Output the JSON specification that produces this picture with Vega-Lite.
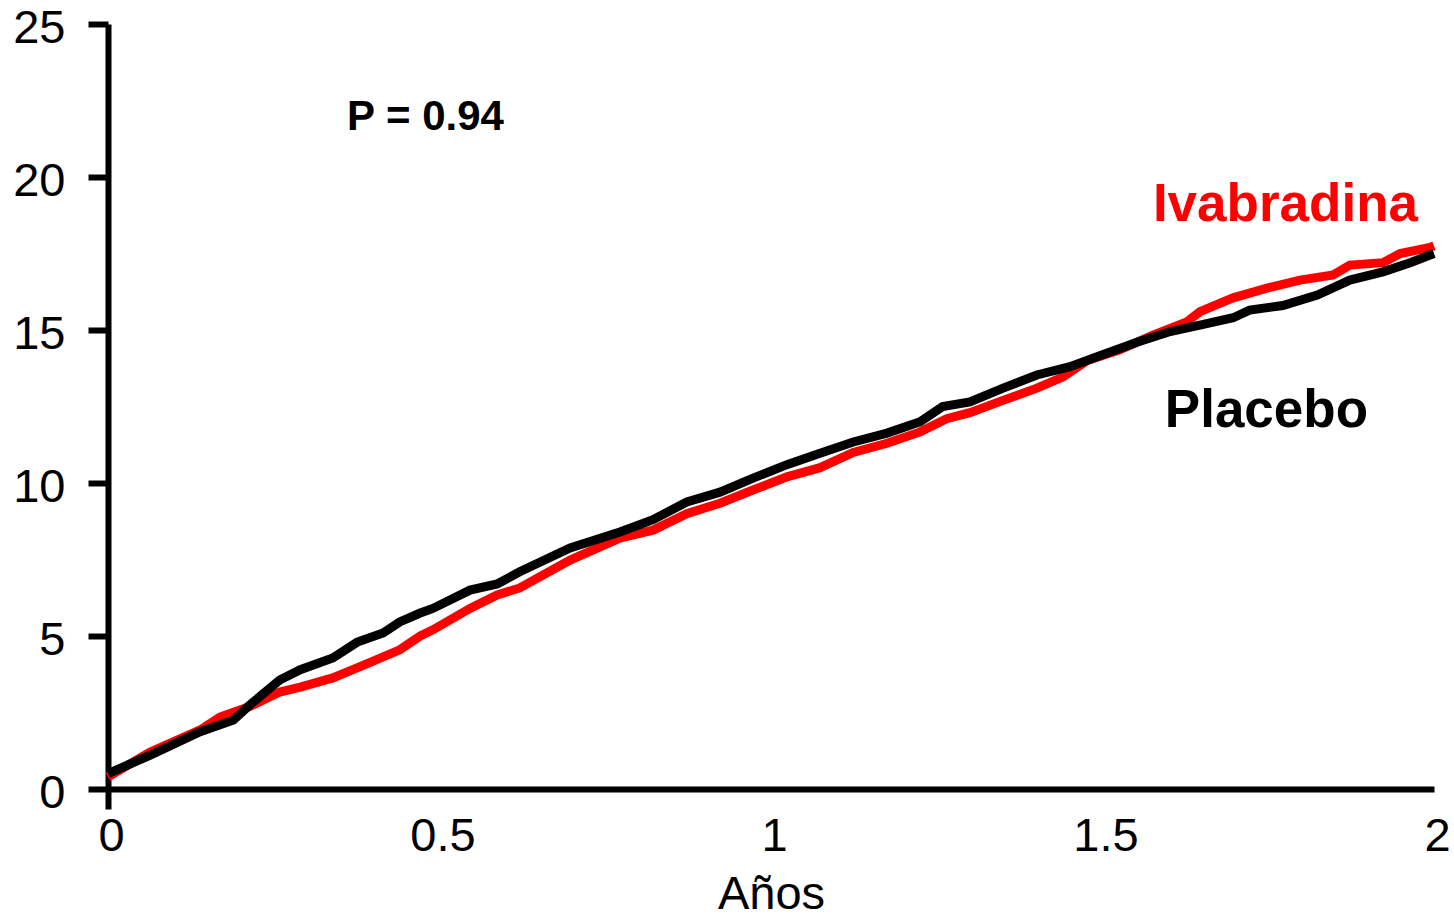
{
  "$schema": "https://vega.github.io/schema/vega-lite/v6.json",
  "width": 1326,
  "height": 765,
  "autosize": {"type": "none"},
  "padding": {"left": 108, "top": 24, "right": 20, "bottom": 128},
  "background": "white",
  "config": {
    "view": {"stroke": null},
    "font": "Liberation Sans",
    "axis": {"labelFont": "Liberation Sans", "titleFont": "Liberation Sans", "labelColor": "black", "titleColor": "black", "domainColor": "black", "tickColor": "black", "grid": false}
  },
  "datasets": {
    "curvas": [
      {"grupo": "Ivabradina", "t": 0.0, "v": 0.4},
      {"grupo": "Ivabradina", "t": 0.063, "v": 1.2},
      {"grupo": "Ivabradina", "t": 0.139, "v": 1.93},
      {"grupo": "Ivabradina", "t": 0.169, "v": 2.35},
      {"grupo": "Ivabradina", "t": 0.214, "v": 2.7},
      {"grupo": "Ivabradina", "t": 0.259, "v": 3.17},
      {"grupo": "Ivabradina", "t": 0.29, "v": 3.33},
      {"grupo": "Ivabradina", "t": 0.339, "v": 3.63},
      {"grupo": "Ivabradina", "t": 0.391, "v": 4.1},
      {"grupo": "Ivabradina", "t": 0.44, "v": 4.55},
      {"grupo": "Ivabradina", "t": 0.471, "v": 5.0},
      {"grupo": "Ivabradina", "t": 0.49, "v": 5.2},
      {"grupo": "Ivabradina", "t": 0.546, "v": 5.9},
      {"grupo": "Ivabradina", "t": 0.587, "v": 6.34},
      {"grupo": "Ivabradina", "t": 0.621, "v": 6.57},
      {"grupo": "Ivabradina", "t": 0.697, "v": 7.48},
      {"grupo": "Ivabradina", "t": 0.772, "v": 8.2},
      {"grupo": "Ivabradina", "t": 0.822, "v": 8.46},
      {"grupo": "Ivabradina", "t": 0.873, "v": 9.0},
      {"grupo": "Ivabradina", "t": 0.923, "v": 9.34},
      {"grupo": "Ivabradina", "t": 0.973, "v": 9.77},
      {"grupo": "Ivabradina", "t": 1.024, "v": 10.2},
      {"grupo": "Ivabradina", "t": 1.074, "v": 10.5},
      {"grupo": "Ivabradina", "t": 1.124, "v": 11.0},
      {"grupo": "Ivabradina", "t": 1.175, "v": 11.3},
      {"grupo": "Ivabradina", "t": 1.225, "v": 11.67},
      {"grupo": "Ivabradina", "t": 1.265, "v": 12.1},
      {"grupo": "Ivabradina", "t": 1.3, "v": 12.3},
      {"grupo": "Ivabradina", "t": 1.35, "v": 12.7},
      {"grupo": "Ivabradina", "t": 1.401, "v": 13.1},
      {"grupo": "Ivabradina", "t": 1.44, "v": 13.46},
      {"grupo": "Ivabradina", "t": 1.477, "v": 14.0},
      {"grupo": "Ivabradina", "t": 1.526, "v": 14.35},
      {"grupo": "Ivabradina", "t": 1.576, "v": 14.83},
      {"grupo": "Ivabradina", "t": 1.627, "v": 15.26},
      {"grupo": "Ivabradina", "t": 1.647, "v": 15.6},
      {"grupo": "Ivabradina", "t": 1.697, "v": 16.05},
      {"grupo": "Ivabradina", "t": 1.748, "v": 16.37},
      {"grupo": "Ivabradina", "t": 1.798, "v": 16.63},
      {"grupo": "Ivabradina", "t": 1.848, "v": 16.8},
      {"grupo": "Ivabradina", "t": 1.873, "v": 17.12},
      {"grupo": "Ivabradina", "t": 1.923, "v": 17.2},
      {"grupo": "Ivabradina", "t": 1.949, "v": 17.5},
      {"grupo": "Ivabradina", "t": 1.994, "v": 17.7},
      {"grupo": "Ivabradina", "t": 2.0, "v": 17.75},
      {"grupo": "Placebo", "t": 0.0, "v": 0.5},
      {"grupo": "Placebo", "t": 0.063, "v": 1.1},
      {"grupo": "Placebo", "t": 0.139, "v": 1.87},
      {"grupo": "Placebo", "t": 0.189, "v": 2.25},
      {"grupo": "Placebo", "t": 0.214, "v": 2.75},
      {"grupo": "Placebo", "t": 0.259, "v": 3.56},
      {"grupo": "Placebo", "t": 0.29, "v": 3.9},
      {"grupo": "Placebo", "t": 0.339, "v": 4.28},
      {"grupo": "Placebo", "t": 0.376, "v": 4.8},
      {"grupo": "Placebo", "t": 0.415, "v": 5.1},
      {"grupo": "Placebo", "t": 0.44, "v": 5.46},
      {"grupo": "Placebo", "t": 0.471, "v": 5.75},
      {"grupo": "Placebo", "t": 0.49, "v": 5.9},
      {"grupo": "Placebo", "t": 0.546, "v": 6.5},
      {"grupo": "Placebo", "t": 0.587, "v": 6.7},
      {"grupo": "Placebo", "t": 0.621, "v": 7.1},
      {"grupo": "Placebo", "t": 0.697, "v": 7.88},
      {"grupo": "Placebo", "t": 0.772, "v": 8.4},
      {"grupo": "Placebo", "t": 0.822, "v": 8.8},
      {"grupo": "Placebo", "t": 0.873, "v": 9.38},
      {"grupo": "Placebo", "t": 0.923, "v": 9.7},
      {"grupo": "Placebo", "t": 0.973, "v": 10.16},
      {"grupo": "Placebo", "t": 1.024, "v": 10.6},
      {"grupo": "Placebo", "t": 1.074, "v": 10.97},
      {"grupo": "Placebo", "t": 1.124, "v": 11.34},
      {"grupo": "Placebo", "t": 1.175, "v": 11.63},
      {"grupo": "Placebo", "t": 1.225, "v": 12.0},
      {"grupo": "Placebo", "t": 1.259, "v": 12.5},
      {"grupo": "Placebo", "t": 1.3, "v": 12.65},
      {"grupo": "Placebo", "t": 1.35, "v": 13.1},
      {"grupo": "Placebo", "t": 1.401, "v": 13.53},
      {"grupo": "Placebo", "t": 1.451, "v": 13.8},
      {"grupo": "Placebo", "t": 1.501, "v": 14.2},
      {"grupo": "Placebo", "t": 1.552, "v": 14.6},
      {"grupo": "Placebo", "t": 1.602, "v": 14.95},
      {"grupo": "Placebo", "t": 1.647, "v": 15.16},
      {"grupo": "Placebo", "t": 1.697, "v": 15.4},
      {"grupo": "Placebo", "t": 1.722, "v": 15.65},
      {"grupo": "Placebo", "t": 1.772, "v": 15.8},
      {"grupo": "Placebo", "t": 1.824, "v": 16.14},
      {"grupo": "Placebo", "t": 1.873, "v": 16.63},
      {"grupo": "Placebo", "t": 1.923, "v": 16.9},
      {"grupo": "Placebo", "t": 1.964, "v": 17.2},
      {"grupo": "Placebo", "t": 2.0, "v": 17.5}
    ]
  },
  "layer": [
    {
      "data": {"name": "curvas"},
      "mark": {"type": "line", "strokeWidth": 9, "strokeJoin": "miter", "clip": false},
      "encoding": {
        "x": {
          "field": "t", "type": "quantitative",
          "scale": {"domain": [0, 2], "nice": false, "zero": false},
          "axis": {
            "title": "Años", "values": [0, 0.5, 1, 1.5, 2], "format": "~g",
            "labelFlush": false, "labelOverlap": false,
            "labelFontSize": 47, "labelPadding": 4, "labelOffset": 3,
            "titleFontSize": 47, "titleFontWeight": "normal", "titlePadding": 12,
            "tickSize": 20, "tickWidth": 6,
            "tickOpacity": {"condition": {"test": "datum.value == 0", "value": 1}, "value": 0},
            "domainWidth": 6
          }
        },
        "y": {
          "field": "v", "type": "quantitative",
          "scale": {"domain": [0, 25], "nice": false},
          "axis": {
            "title": null, "values": [0, 5, 10, 15, 20, 25],
            "labelFontSize": 47, "labelPadding": 23, "labelOffset": 4,
            "tickSize": 20, "tickWidth": 6, "domainWidth": 6
          }
        },
        "color": {
          "field": "grupo", "type": "nominal",
          "scale": {"domain": ["Ivabradina", "Placebo"], "range": ["#FF0000", "#000000"]},
          "legend": null
        }
      }
    },
    {
      "data": {"values": [{"t": 0.3605, "v": 21.54, "texto": "P = 0.94"}]},
      "mark": {"type": "text", "align": "left", "baseline": "alphabetic", "fontSize": 42, "fontWeight": "bold", "color": "#000000", "font": "Liberation Sans"},
      "encoding": {"x": {"field": "t", "type": "quantitative"}, "y": {"field": "v", "type": "quantitative"}, "text": {"field": "texto"}}
    },
    {
      "data": {"values": [{"t": 1.576, "v": 18.56, "texto": "Ivabradina"}]},
      "mark": {"type": "text", "align": "left", "baseline": "alphabetic", "fontSize": 53, "fontWeight": "bold", "color": "#FF0000", "font": "Liberation Sans"},
      "encoding": {"x": {"field": "t", "type": "quantitative"}, "y": {"field": "v", "type": "quantitative"}, "text": {"field": "texto"}}
    },
    {
      "data": {"values": [{"t": 1.594, "v": 11.83, "texto": "Placebo"}]},
      "mark": {"type": "text", "align": "left", "baseline": "alphabetic", "fontSize": 53, "fontWeight": "bold", "color": "#000000", "font": "Liberation Sans"},
      "encoding": {"x": {"field": "t", "type": "quantitative"}, "y": {"field": "v", "type": "quantitative"}, "text": {"field": "texto"}}
    }
  ]
}
